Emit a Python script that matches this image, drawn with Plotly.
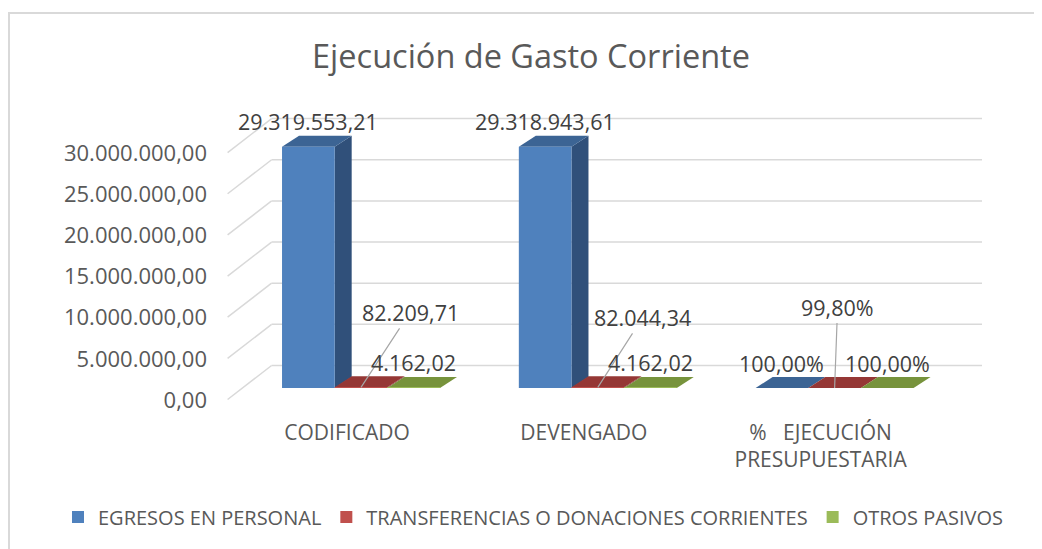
import plotly.graph_objects as go

# ---------------- data ----------------
categories = ["CODIFICADO", "DEVENGADO", "%\u00a0\u00a0 EJECUCIÓN<br>PRESUPUESTARIA"]
series_names = ["EGRESOS EN PERSONAL", "TRANSFERENCIAS O DONACIONES CORRIENTES", "OTROS PASIVOS"]
egresos_personal = [29319553.21, 29318943.61, 1.0]
transferencias = [82209.71, 82044.34, 0.998]
otros_pasivos = [4162.02, 4162.02, 1.0]
egresos_labels = ["29.319.553,21", "29.318.943,61", "100,00%"]
transferencias_labels = ["82.209,71", "82.044,34", "99,80%"]
otros_labels = ["4.162,02", "4.162,02", "100,00%"]
y_ticks = [0, 5e6, 10e6, 15e6, 20e6, 25e6, 30e6]
y_ticktext = ["0,00", "5.000.000,00", "10.000.000,00", "15.000.000,00",
              "20.000.000,00", "25.000.000,00", "30.000.000,00"]

# ---------------- styling / geometry ----------------
W, H = 1042, 549
OFF = 8                 # page body margin of the html output
FONT = "Open Sans"
front_cols = ["#4f81bd", "#c0504d", "#9bbb59"]
top_cols = ["#3c6494", "#953735", "#77933c"]
side_cols = ["#30507a", "#7a2d2b", "#61782f"]
grid_col = "#d9d9d9"
txt_col = "#595959"
lbl_col = "#404040"

# plot area in (screen) pixels
PL, PR, PT, PB = 220, 990, 110, 405
cat_px = 236.8          # pixels per category
val_px = 8.23e-6        # pixels per unit value
zero_px = 388           # pixel row of value 0 on the bar front plane
cat0_px = 361           # pixel column of category 0

x_lo = (PL - cat0_px) / cat_px
x_hi = (PR - cat0_px) / cat_px
y_lo = -(PB - zero_px) / val_px
y_hi = (zero_px - PT) / val_px

def dx(p):
    return p / cat_px

def dy(p):
    return p / val_px

group_w = 0.667
bar_w = group_w / 3

# depth offsets (pixels)
BAR_DX, BAR_DY = 17, 11      # bar depth
BACK_DX, BACK_DY = 29, 22.5  # bar front plane -> back wall
FRONT_DX, FRONT_DY = 15, 11.5  # bar front plane -> floor front edge

series = [egresos_personal, transferencias, otros_pasivos]
labels = [egresos_labels, transferencias_labels, otros_labels]

fig = go.Figure()
for k, (name, vals) in enumerate(zip(series_names, series)):
    fig.add_trace(go.Bar(
        x=list(range(len(categories))), y=vals, name=name,
        marker=dict(color=front_cols[k], line=dict(width=0)),
        width=bar_w, offset=-group_w / 2 + k * bar_w,
        hoverinfo="name+y",
    ))

shapes = []
# back wall gridlines and left diagonal lines
for v in y_ticks:
    shapes.append(dict(type="line", xref="x", yref="y", layer="below",
                       x0=-0.5 + dx(BACK_DX), x1=len(categories) - 0.5 + dx(BACK_DX),
                       y0=v + dy(BACK_DY), y1=v + dy(BACK_DY),
                       line=dict(color=grid_col, width=1.5)))
    shapes.append(dict(type="line", xref="x", yref="y", layer="below",
                       x0=-0.5 - dx(FRONT_DX), y0=v - dy(FRONT_DY),
                       x1=-0.5 + dx(BACK_DX), y1=v + dy(BACK_DY),
                       line=dict(color=grid_col, width=1.5)))

# 3D faces for the bars
for k, vals in enumerate(series):
    for i, v in enumerate(vals):
        xl = i - group_w / 2 + k * bar_w
        xr = xl + bar_w
        ddx, ddy = dx(BAR_DX), dy(BAR_DY)
        shapes.append(dict(type="path", xref="x", yref="y", layer="below",
                           path=f"M{xr},0 L{xr},{v} L{xr+ddx},{v+ddy} L{xr+ddx},{ddy} Z",
                           fillcolor=side_cols[k], line=dict(width=0)))
        shapes.append(dict(type="path", xref="x", yref="y", layer="below",
                           path=f"M{xl},{v} L{xr},{v} L{xr+ddx},{v+ddy} L{xl+ddx},{v+ddy} Z",
                           fillcolor=top_cols[k], line=dict(width=0)))

# screen pixel -> paper
def px_x(p):
    return (p - PL) / (PR - PL)

def px_y(p):
    return (PB - p) / (PB - PT)

shapes.append(dict(type="rect", xref="paper", yref="paper", layer="below",
                   x0=px_x(9), x1=px_x(W + 20), y0=px_y(13), y1=px_y(H + 20),
                   line=dict(color=grid_col, width=2), fillcolor="rgba(0,0,0,0)"))

annotations = []
# data labels: blue and green sit above their bar, red ones are moved with leader lines
red_offsets = [(49, -75), (45, -70), (3, -81)]
for k, vals in enumerate(series):
    for i, v in enumerate(vals):
        xc = i - group_w / 2 + (k + 0.5) * bar_w
        if k == 1:
            ax, ay = red_offsets[i]
            annotations.append(dict(x=xc, y=v, xref="x", yref="y", text=labels[k][i],
                                    showarrow=True, arrowhead=0, arrowwidth=1.2,
                                    arrowcolor="#a6a6a6", ax=ax, ay=ay, standoff=0,
                                    font=dict(family=FONT, size=21.5, color=lbl_col)))
        else:
            annotations.append(dict(x=xc, y=v, xref="x", yref="y", text=labels[k][i],
                                    showarrow=False, yshift=25,
                                    font=dict(family=FONT, size=21.5, color=lbl_col)))

fig.update_layout(
    width=W, height=H,
    margin=dict(l=PL - OFF, r=W - (PR - OFF), t=PT - OFF, b=H - (PB - OFF), autoexpand=False),
    paper_bgcolor="white", plot_bgcolor="rgba(0,0,0,0)",
    title=dict(text="Ejecución de Gasto Corriente", x=(531 - OFF) / W, xanchor="center",
               y=1 - (57 - OFF) / H, yanchor="middle",
               font=dict(family=FONT, size=32.5, color=txt_col)),
    barmode="overlay",
    showlegend=True,
    legend=dict(orientation="h", x=px_x(58), xanchor="left", y=px_y(517), yanchor="middle",
                font=dict(family=FONT, size=20, color=txt_col), itemwidth=30,
                traceorder="normal", tracegroupgap=0, bgcolor="rgba(0,0,0,0)"),
    xaxis=dict(range=[x_lo, x_hi], tickvals=list(range(len(categories))), ticktext=categories,
               showgrid=False, zeroline=False, showline=False, ticks="",
               ticklabelshift=-14, ticklabelstandoff=13,
               tickfont=dict(family=FONT, size=21, color=txt_col), fixedrange=True),
    yaxis=dict(range=[y_lo, y_hi], tickvals=y_ticks, ticktext=y_ticktext,
               showgrid=False, zeroline=False, showline=False, ticks="",
               ticklabelshift=12, ticklabelstandoff=12,
               tickfont=dict(family=FONT, size=22, color=txt_col), fixedrange=True),
    shapes=shapes, annotations=annotations,
)

fig.write_html("out.html")
